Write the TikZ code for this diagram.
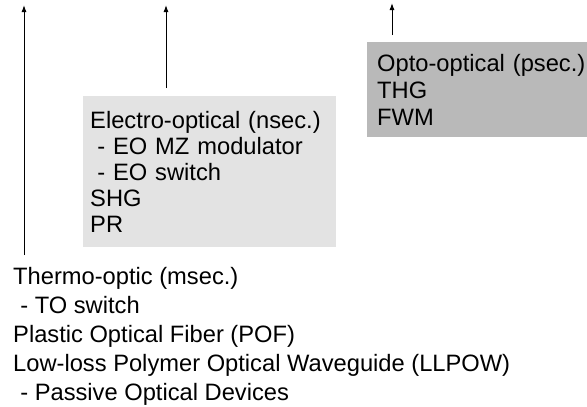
\documentclass[tikz,border=0pt]{standalone}
\usepackage{fontspec}
\setmainfont{Liberation Sans}
\usetikzlibrary{positioning, arrows.meta}

\begin{document}
\begin{tikzpicture}[
    x=1pt, y=-1pt,
    box/.style={
        align=left,
        anchor=north west,
        inner xsep=7pt
    },
    eobox/.style={
        box,
        fill=gray!22,
        inner ysep=15pt,
        text width=239pt,
        font=\fontsize{23.7}{26}\selectfont
    },
    oobox/.style={
        box,
        fill=gray!55,
        inner xsep=10pt,
        inner ysep=12pt,
        text width=200pt,
        font=\fontsize{23.7}{27}\selectfont
    },
    plain/.style={
        align=left,
        anchor=north west,
        inner sep=0pt,
        font=\fontsize{23.7}{29}\selectfont
    },
    arrow/.style={
        -{Latex[length=7pt, width=5pt]},
        line width=1pt
    }
]
\useasboundingbox (0,0) rectangle (587,407);

\node[eobox] (eo) at (83,96)
    {Electro-optical (nsec.)\\
     \hspace*{0.3em}- EO MZ modulator\\
     \hspace*{0.3em}- EO switch\\
     SHG\\
     PR};

\node[oobox] (oo) at (367,42)
    {\mbox{Opto-optical (psec.)}\\
     THG\\
     FWM};

\node[plain] (thermo) at (13,267)
    {Thermo-optic (msec.)\\
     \hspace*{0.3em}- TO switch\\
     Plastic Optical Fiber (POF)\\
     Low-loss Polymer Optical Waveguide (LLPOW)\\
     \hspace*{0.3em}- Passive Optical Devices};

\coordinate (totip) at (24,5);
\coordinate (eotip) at (166,5);
\coordinate (ootip) at (392,3);

\draw[arrow] ([yshift=12pt]totip |- thermo.north) -- (totip);
\draw[arrow] ([yshift=8pt]eotip |- eo.north) -- (eotip);
\draw[arrow] ([yshift=7pt]ootip |- oo.north) -- (ootip);

\end{tikzpicture}
\end{document}
